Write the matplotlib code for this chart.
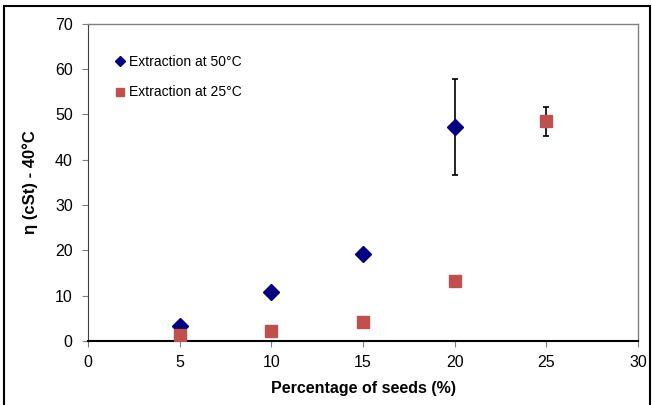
import matplotlib
matplotlib.use('Agg')
import matplotlib.pyplot as plt
from matplotlib.patches import Rectangle

plt.rcParams['font.family'] = ['Liberation Sans', 'DejaVu Sans']

# Extraction at 50°C
seeds_50 = [5, 10, 15, 20]
visc_50 = [3.4, 10.8, 19.1, 47.3]
err_50 = [0, 0, 0, 10.6]

# Extraction at 25°C
seeds_25 = [5, 10, 15, 20, 25]
visc_25 = [1.4, 2.2, 4.3, 13.3, 48.5]
err_25 = [0, 0, 0, 0, 3.25]

fig = plt.figure(figsize=(6.52, 4.05), dpi=100)
ax = fig.add_axes([0.135, 0.158, 0.8435, 0.783])

# outer frame of the picture
fig.patches.append(Rectangle((0.006, -0.01), 0.991, 0.996, transform=fig.transFigure,
                             fill=False, edgecolor='black', linewidth=1.5))

ax.errorbar(seeds_50, visc_50, yerr=err_50,
            fmt='D', color='#000080', markersize=8, ecolor='black', elinewidth=1.2,
            capsize=2.5, capthick=1.2, label='Extraction at 50°C', zorder=3)
ax.errorbar(seeds_25, visc_25, yerr=err_25,
            fmt='s', color='#C0504D', markersize=8, ecolor='black', elinewidth=1.2,
            capsize=2.5, capthick=1.2, label='Extraction at 25°C', zorder=3)

ax.set_xlim(0, 30)
ax.set_ylim(0, 70)
ax.set_xticks(range(0, 31, 5))
ax.set_yticks(range(0, 71, 10))
ax.tick_params(axis='both', labelsize=11.5, direction='out', length=4,
               color='#808080')
ax.tick_params(axis='x', pad=6)
ax.tick_params(axis='y', pad=7)

for side in ['top', 'right']:
    ax.spines[side].set_color('#808080')
    ax.spines[side].set_linewidth(1.0)
ax.spines['left'].set_color('#404040')
ax.spines['bottom'].set_color('black')
ax.spines['bottom'].set_linewidth(1.5)

ax.set_xlabel('Percentage of seeds (%)', fontsize=11.5, fontweight='bold', labelpad=8)
ax.set_ylabel('η (cSt) - 40°C', fontsize=12, fontweight='bold', labelpad=12)

handles, labels = ax.get_legend_handles_labels()
handles = [h[0] for h in handles]
ax.legend(handles, labels, loc='upper left', bbox_to_anchor=(0.021, 0.942), frameon=False,
          fontsize=10, handletextpad=0.0, handlelength=1.2, labelspacing=1.2,
          markerscale=0.65)

fig.savefig('out.png', dpi=100, facecolor='white')
